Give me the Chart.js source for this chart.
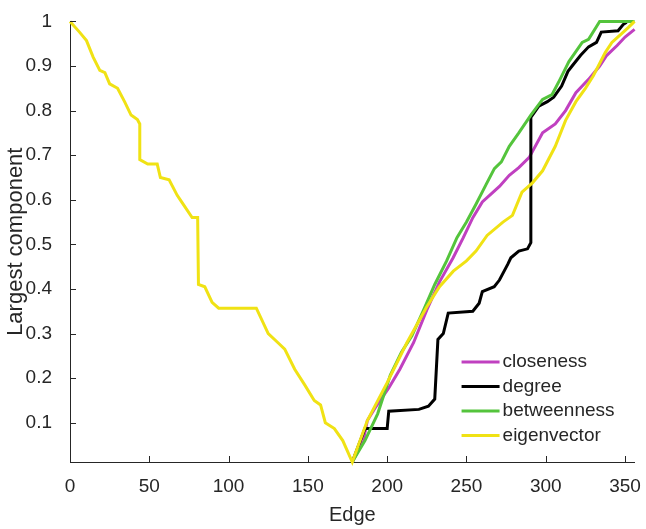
<!DOCTYPE html>
<html>
<head>
<meta charset="utf-8">
<script src="https://cdn.jsdelivr.net/npm/chart.js@4/dist/chart.umd.min.js"></script>
<style>
  body { margin: 0; background: #fff; }
  #wrap { width: 646px; height: 529px; }
</style>
</head>
<body>
<div id="wrap"><canvas id="largestComponent" width="646" height="529"></canvas></div>
<script>
// values
const seriesNames = ['closeness', 'degree', 'betweenness', 'eigenvector'];
const seriesColors = ['rgb(192, 64, 192)', 'rgb(0, 0, 0)', 'rgb(84, 196, 60)', 'rgb(240, 226, 20)'];

const xTicks = [0, 50, 100, 150, 200, 250, 300, 350];
const yTicks = [0.1, 0.2, 0.3, 0.4, 0.5, 0.6, 0.7, 0.8, 0.9, 1];

const closenessX = [178, 185, 187.5, 192.5, 201, 208, 216.7, 225, 233, 241.6, 248, 254, 260, 265.6, 270.8, 277, 283, 289.6, 298, 306, 312.5, 319, 327, 334, 338.5, 345, 350, 356];
const closenessY = [0.012, 0.06, 0.105, 0.134, 0.178, 0.22, 0.28, 0.353, 0.416, 0.47, 0.515, 0.56, 0.595, 0.613, 0.63, 0.655, 0.672, 0.695, 0.75, 0.77, 0.8, 0.84, 0.87, 0.9, 0.924, 0.946, 0.965, 0.982];

const degreeX = [178, 186, 200, 201, 220, 226, 230, 232, 235.4, 238.5, 254, 258, 260, 267.5, 270.8, 276, 278, 283, 288.5, 290.6, 290.6, 295.6, 301, 305, 310, 314, 316.6, 322, 327, 332, 335, 345.6, 348.8, 351];
const degreeY = [0.012, 0.087, 0.087, 0.126, 0.13, 0.137, 0.153, 0.287, 0.3, 0.346, 0.35, 0.368, 0.394, 0.405, 0.42, 0.455, 0.47, 0.485, 0.49, 0.504, 0.785, 0.81, 0.82, 0.83, 0.855, 0.888, 0.9, 0.924, 0.943, 0.953, 0.976, 0.979, 0.993, 0.998];

const betweennessX = [178, 186, 194, 202, 209, 215.6, 223, 230, 237.5, 244, 250, 256, 262.5, 267.6, 272, 277, 283, 290.6, 298, 304, 309, 314.6, 323, 327, 334, 356];
const betweennessY = [0.012, 0.06, 0.12, 0.207, 0.258, 0.295, 0.353, 0.41, 0.463, 0.515, 0.55, 0.59, 0.635, 0.67, 0.685, 0.72, 0.75, 0.79, 0.825, 0.836, 0.87, 0.91, 0.953, 0.96, 1, 1];

const eigenvectorX = [0, 6, 10.4, 14.6, 18.8, 22, 25, 30, 34.4, 38.5, 42.5, 44, 44, 49, 55, 57, 62.5, 67.6, 70.6, 77, 80.5, 81, 85, 89.6, 93.75, 117.5, 125, 131, 135.4, 141.7, 148, 154, 158, 161, 166.7, 172, 178,
  187.5, 200, 212.5, 225, 233, 241.7, 250, 256, 263, 273, 279, 285, 291.6, 298, 306, 312.5, 319, 325, 330, 337.5, 341.7, 347, 352, 356];
const eigenvectorY = [1, 0.976, 0.957, 0.92, 0.89, 0.885, 0.86, 0.85, 0.82, 0.79, 0.78, 0.77, 0.69, 0.68, 0.68, 0.65, 0.645, 0.61, 0.594, 0.56, 0.56, 0.41, 0.405, 0.37, 0.357, 0.357, 0.3, 0.28, 0.265, 0.22, 0.185, 0.15, 0.14, 0.1, 0.087, 0.06, 0.012,
  0.105, 0.19, 0.28, 0.36, 0.405, 0.44, 0.463, 0.485, 0.52, 0.55, 0.565, 0.617, 0.638, 0.665, 0.72, 0.778, 0.82, 0.85, 0.878, 0.93, 0.953, 0.97, 0.986, 1];

const xsList = [closenessX, degreeX, betweennessX, eigenvectorX];
const ysList = [closenessY, degreeY, betweennessY, eigenvectorY];

const axisColor = '#262626';
const fontName = '"Liberation Sans", Arial, sans-serif';

function toPoints(xs, ys) {
	let pts = [];
	xs.forEach((x, i) => {
		pts.push({ x: x, y: ys[i] });
	});
	return pts;
}

let datasets = [];
seriesNames.forEach((name, i) => {
	datasets.push({
		label: name,
		data: toPoints(xsList[i], ysList[i]),
		borderColor: seriesColors[i],
		backgroundColor: seriesColors[i],
		borderWidth: 3,
		pointRadius: 0,
		tension: 0,
		fill: false,
		clip: false,
		// eigenvector on top, as in the picture
		order: seriesNames.length - 1 - i
	});
});

// MATLAB style ticks pointing inward
const inwardTicks = {
	id: 'inwardTicks',
	afterDatasetsDraw(chart) {
		const ctx = chart.ctx;
		const xs = chart.scales.x;
		const ys = chart.scales.y;
		const area = chart.chartArea;
		ctx.save();
		ctx.strokeStyle = axisColor;
		ctx.lineWidth = 1;
		xTicks.forEach(v => {
			let px = Math.round(xs.getPixelForValue(v)) + 0.5;
			ctx.beginPath();
			ctx.moveTo(px, area.bottom);
			ctx.lineTo(px, area.bottom - 6);
			ctx.stroke();
		});
		yTicks.forEach(v => {
			let py = Math.round(ys.getPixelForValue(v)) + 0.5;
			ctx.beginPath();
			ctx.moveTo(area.left, py);
			ctx.lineTo(area.left + 6, py);
			ctx.stroke();
		});
		ctx.restore();
	}
};

// legend in the lower right of the plot area
const cornerLegend = {
	id: 'cornerLegend',
	afterDraw(chart) {
		const ctx = chart.ctx;
		const area = chart.chartArea;
		const rowH = 24.5;
		const startY = area.bottom - 100;
		const lineX0 = area.right - 173;
		const lineX1 = area.right - 135;
		ctx.save();
		ctx.font = '19px ' + fontName;
		ctx.textBaseline = 'middle';
		ctx.textAlign = 'left';
		seriesNames.forEach((name, i) => {
			let y = startY + i * rowH;
			ctx.strokeStyle = seriesColors[i];
			ctx.lineWidth = 3;
			ctx.beginPath();
			ctx.moveTo(lineX0, y);
			ctx.lineTo(lineX1, y);
			ctx.stroke();
			ctx.fillStyle = axisColor;
			ctx.fillText(name, lineX1 + 3, y);
		});
		ctx.restore();
	}
};

let target = document.getElementById('largestComponent');
new Chart(target, {
	type: 'line',
	data: { datasets: datasets },
	plugins: [inwardTicks, cornerLegend],
	options: {
		responsive: false,
		animation: false,
		layout: { padding: { left: 0, top: 12, right: 6, bottom: 0 } },
		plugins: {
			legend: { display: false },
			tooltip: { enabled: false }
		},
		scales: {
			x: {
				type: 'linear',
				min: 0,
				max: 356,
				afterBuildTicks: scale => { scale.ticks = xTicks.map(v => ({ value: v })); },
				afterFit: scale => { scale.height = 67; },
				grid: { display: false },
				border: { display: true, color: axisColor, width: 1 },
				ticks: {
					color: axisColor,
					font: { family: fontName, size: 19 },
					padding: 5,
					maxRotation: 0,
					callback: v => String(v)
				},
				title: {
					display: true,
					text: 'Edge',
					color: axisColor,
					font: { family: fontName, size: 20 },
					padding: { top: 0, bottom: 2 }
				}
			},
			y: {
				type: 'linear',
				min: 0.012,
				max: 1,
				afterBuildTicks: scale => { scale.ticks = yTicks.map(v => ({ value: v })); },
				afterFit: scale => { scale.width = 70; },
				grid: { display: false },
				border: { display: true, color: axisColor, width: 1 },
				ticks: {
					color: axisColor,
					font: { family: fontName, size: 19 },
					padding: 10,
					callback: v => String(Math.round(v * 10) / 10)
				},
				title: {
					display: true,
					text: 'Largest component',
					color: axisColor,
					font: { family: fontName, size: 22 },
					padding: { top: 3, bottom: 0 }
				}
			}
		}
	}
});
</script>
</body>
</html>
